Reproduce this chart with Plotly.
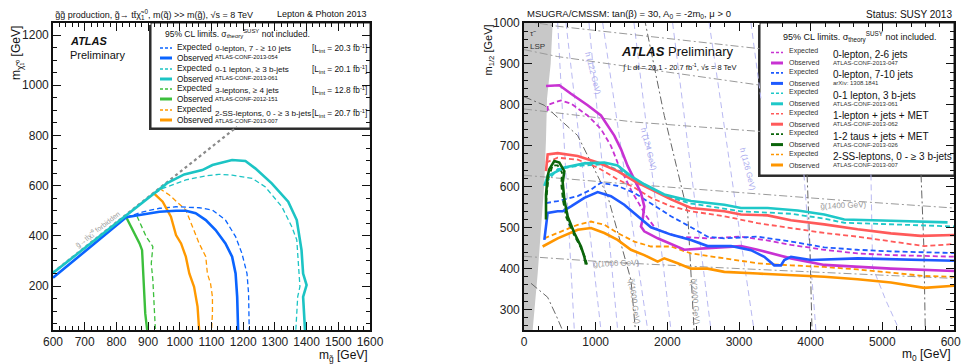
import plotly.graph_objects as go

OFF = 8                      # page body margin of the html page
W, H = 969 - OFF, 364 - OFF  # figure size so that it fits inside the 969x364 window
FONT = "Liberation Sans, Arial, sans-serif"

# ---------------- LEFT PANEL DATA (m_gluino, m_neutralino) ----------------
kin_x = [600, 1180]
kin_y = [254, 834]

blue_obs_x = [600, 831, 873, 936, 988, 1019, 1050, 1082, 1113, 1144, 1165, 1176, 1181, 1184]
blue_obs_y = [233, 474, 483, 496, 500, 500, 490, 463, 423, 370, 317, 250, 157, 25]
blue_exp_x = [831, 884, 936, 988, 1061, 1103, 1144, 1176, 1196, 1212, 1217, 1219]
blue_exp_y = [474, 496, 510, 516, 512, 503, 463, 397, 330, 250, 170, 25]

cyan_obs_x = [600, 700, 800, 900, 960, 1014, 1071, 1103, 1165, 1207, 1238, 1290, 1342, 1369, 1384, 1389, 1400, 1389, 1392, 1395]
cyan_obs_y = [252, 352, 453, 553, 610, 645, 662, 682, 702, 698, 669, 609, 536, 463, 343, 250, 204, 157, 91, 25]
cyan_exp_x = [900, 946, 1019, 1082, 1123, 1165, 1228, 1269, 1322, 1353, 1369, 1374, 1379, 1372, 1369, 1366]
cyan_exp_y = [553, 589, 623, 639, 645, 642, 629, 596, 516, 437, 384, 277, 198, 158, 91, 25]

green_obs_x = [831, 852, 873, 881, 885, 888, 891, 897]
green_obs_y = [474, 423, 370, 343, 250, 157, 91, 25]
green_exp_x = [865, 894, 915, 910, 915, 917, 920, 923]
green_exp_y = [478, 397, 357, 290, 224, 157, 91, 25]

orange_obs_x = [920, 946, 972, 988, 1004, 1019, 1030, 1045, 1056, 1061]
orange_obs_y = [567, 536, 476, 403, 370, 317, 250, 197, 118, 25]
orange_exp_x = [936, 967, 1019, 1040, 1061, 1082, 1087, 1097, 1103, 1103, 1100]
orange_exp_y = [589, 563, 503, 437, 370, 317, 250, 210, 157, 91, 25]

# ---------------- RIGHT PANEL DATA (m0, m1/2) ----------------
lsp_m0 = [0, 121, 191, 237, 284, 307, 321, 372, 400, 0]
lsp_m12 = [250, 250, 388, 503, 610, 716, 815, 900, 1000, 1000]

mag_obs_m0 = [307, 493, 656, 888, 1074, 1260, 1353, 1446, 1539, 1632, 1678, 1655, 1632, 1678, 1865, 2144, 2237, 2562, 2795, 3027, 3260, 3725, 4190, 4655, 5120, 6000]
mag_obs_m12 = [846, 848, 827, 799, 774, 725, 692, 651, 618, 585, 552, 519, 503, 491, 474, 454, 446, 450, 452, 455, 446, 425, 409, 404, 400, 394]
mag_exp_m0 = [330, 330, 516, 656, 888, 1074, 1213, 1306, 1399, 1500, 1600, 1700, 1814, 1865, 2144, 2562, 3027, 3353, 3725, 4190, 4655, 5120, 6000]
mag_exp_m12 = [785, 800, 811, 803, 774, 741, 700, 659, 626, 590, 560, 530, 503, 495, 478, 474, 478, 470, 458, 446, 437, 433, 429]

blue_obs_m0 = [284, 330, 470, 540, 656, 842, 1028, 1213, 1399, 1585, 1772, 2051, 2330, 2562, 2888, 3167, 3353, 3492, 3585, 3632, 3725, 4004, 4655, 6000]
blue_obs_m12 = [470, 536, 540, 540, 552, 573, 587, 577, 556, 528, 501, 483, 470, 455, 455, 445, 429, 408, 408, 421, 429, 421, 425, 419]
blue_exp_m0 = [307, 470, 749, 935, 1074, 1306, 1539, 1772, 2051, 2330, 2562, 2795, 3260, 3725, 4190, 4655, 5120, 6000]
blue_exp_m12 = [560, 565, 577, 593, 610, 602, 585, 560, 528, 501, 478, 474, 478, 466, 452, 446, 442, 438]

cyan_obs_m0 = [284, 330, 563, 842, 1121, 1306, 1492, 1678, 1957, 2330, 2795, 3027, 3399, 3818, 4190, 4469, 5120, 5910]
cyan_obs_m12 = [602, 626, 647, 657, 659, 652, 626, 606, 581, 565, 556, 548, 548, 542, 532, 520, 517, 513]
cyan_exp_m0 = [307, 470, 749, 1121, 1399, 1632, 1957, 2330, 3027, 3725, 4190, 4469, 5120, 6000]
cyan_exp_m12 = [610, 643, 651, 655, 634, 610, 578, 559, 540, 534, 522, 512, 508, 503]

red_obs_m0 = [307, 330, 470, 749, 1028, 1306, 1539, 1772, 2051, 2330, 2609, 2795, 3027, 3399, 3725, 4190, 4655, 5120, 5538, 6000]
red_obs_m12 = [638, 679, 682, 675, 659, 638, 614, 593, 569, 548, 544, 540, 532, 530, 518, 508, 496, 486, 480, 482]
red_exp_m0 = [307, 470, 749, 1028, 1306, 1539, 1772, 2051, 2330, 2795, 3260, 3725, 4190, 4655, 5120, 5585, 6000]
red_exp_m12 = [659, 671, 666, 647, 618, 598, 573, 552, 540, 528, 511, 499, 487, 478, 466, 455, 460]

tau_obs_m0 = [307, 307, 330, 353, 423, 493, 563, 540, 563, 609, 702, 795, 842, 865]
tau_obs_m12 = [520, 580, 626, 643, 663, 659, 638, 610, 569, 527, 487, 454, 429, 410]
tau_exp_m0 = [307, 340, 400, 470, 530, 520, 545, 590, 690, 790, 850, 880]
tau_exp_m12 = [560, 620, 652, 652, 635, 605, 565, 525, 485, 452, 428, 410]

ss_obs_m0 = [260, 470, 749, 935, 1121, 1306, 1492, 1678, 1865, 1957, 2144, 2330, 2562, 2795, 3260, 3725, 4190, 4655, 5120, 5585, 6000]
ss_obs_m12 = [454, 474, 495, 499, 487, 470, 446, 433, 417, 425, 413, 400, 400, 392, 388, 384, 380, 374, 366, 353, 358]
ss_exp_m0 = [284, 470, 749, 935, 1121, 1306, 1539, 1772, 2051, 2330, 2795, 3260, 3725, 4190, 4655, 5120, 5585, 6000]
ss_exp_m12 = [474, 487, 507, 515, 507, 487, 466, 454, 454, 437, 425, 413, 408, 404, 398, 390, 382, 380]

# iso-mass contours (gluino / squark, grey dash-dot) and Higgs-mass contours (light blue dashed)
gluino_lines = {
    "g1000": ([0, 1250, 3000, 4500, 6000], [430, 415, 400, 388, 376]),
    "g1400": ([0, 1500, 3000, 4500, 6000], [628, 606, 586, 566, 548]),
    "g1800": ([0, 1540, 3300], [790, 758, 735]),
    "g2200": ([0, 470, 3300], [935, 918, 848]),
    "g2600": ([0, 470, 3300], [1005, 992, 937]),
}
squark_lines = {
    "q1000": ([98, 330, 450, 560], [364, 330, 285, 240]),
    "q1600": ([0, 283, 749, 1168, 1493, 1563], [820, 799, 725, 577, 372, 232]),
    "q2400": ([1679, 1957, 2284, 2376], [1012, 774, 536, 240]),
    "q3200": ([3950, 3990, 4020], [630, 450, 240]),
    "q4000": ([5540, 5580, 5600], [630, 450, 240]),
}
higgs_lines = {
    "h1": ([470, 702], [1000, 250]),
    "h2": ([586, 1074], [1000, 250]),
    "h3": ([907, 1307], [1000, 250]),
    "h4": ([1098, 1726], [1000, 250]),
    "h5": ([1535, 2051], [1000, 250]),
    "h6": ([2074, 2609], [1000, 250]),
    "h7": ([2584, 3209], [1000, 250]),
    "h8": ([3167, 3306], [1000, 815]),
    "h9": ([3906, 4073], [630, 250]),
    "h10": ([4841, 4864, 5050, 5237], [630, 404, 322, 250]),
}

# ---------------- styling ----------------
L_BLUE, L_CYAN, L_GREEN, L_ORANGE = "#0a64ff", "#1cc4c4", "#3cbf3c", "#ff9900"
R_MAG, R_BLUE, R_CYAN, R_RED, R_TAU, R_SS = "#c832d2", "#1e5aff", "#1ec8c8", "#ff5a5a", "#0a640a", "#ff9600"
DASH = "5px,3px"
DASHDOT = "8px,3px,2px,3px"

fig = go.Figure()


def add(x, y, color, width, dash=None, xa="x", ya="y", fill=None, fillcolor=None):
    fig.add_trace(go.Scatter(x=x, y=y, mode="lines", xaxis=xa, yaxis=ya,
                             line=dict(color=color, width=width, dash=dash),
                             fill=fill, fillcolor=fillcolor,
                             hoverinfo="skip", showlegend=False))


# left panel
add(kin_x, kin_y, "#8a8a8a", 2.2, "dot")
add(green_exp_x, green_exp_y, L_GREEN, 1.3, DASH)
add(orange_exp_x, orange_exp_y, L_ORANGE, 1.3, DASH)
add(blue_exp_x, blue_exp_y, L_BLUE, 1.3, DASH)
add(cyan_exp_x, cyan_exp_y, L_CYAN, 1.3, DASH)
add(green_obs_x, green_obs_y, L_GREEN, 2.4)
add(orange_obs_x, orange_obs_y, L_ORANGE, 2.4)
add(blue_obs_x, blue_obs_y, L_BLUE, 2.6)
add(cyan_obs_x, cyan_obs_y, L_CYAN, 2.6)

# right panel background
add(lsp_m0, lsp_m12, "#c4c4c4", 0, None, "x2", "y2", "toself", "#c8c8c8")
for k, (xx, yy) in higgs_lines.items():
    add(xx, yy, "#b9b9f2", 1, "6px,4px", "x2", "y2")
for k, (xx, yy) in gluino_lines.items():
    add(xx, yy, "#9a9a9a", 1, DASHDOT, "x2", "y2")
for k, (xx, yy) in squark_lines.items():
    add(xx, yy, "#666666", 1, DASHDOT, "x2", "y2")

# right panel limits
for xx, yy, c in [(mag_exp_m0, mag_exp_m12, R_MAG), (blue_exp_m0, blue_exp_m12, R_BLUE),
                  (cyan_exp_m0, cyan_exp_m12, R_CYAN), (red_exp_m0, red_exp_m12, R_RED),
                  (ss_exp_m0, ss_exp_m12, R_SS), (tau_exp_m0, tau_exp_m12, R_TAU)]:
    add(xx, yy, c, 1.8, DASH, "x2", "y2")
for xx, yy, c in [(mag_obs_m0, mag_obs_m12, R_MAG), (red_obs_m0, red_obs_m12, R_RED),
                  (cyan_obs_m0, cyan_obs_m12, R_CYAN), (blue_obs_m0, blue_obs_m12, R_BLUE),
                  (ss_obs_m0, ss_obs_m12, R_SS), (tau_obs_m0, tau_obs_m12, R_TAU)]:
    add(xx, yy, c, 2.6, None, "x2", "y2")


# window pixel -> paper fraction
def px(x):
    return (x - OFF) / W


def py(y):
    return 1 - (y - OFF) / H


shapes = []
annos = []


def text(x, y, s, size, anchor="left", color="#111", angle=0, ref="paper", yanchor="middle", xr=None, yr=None):
    if ref == "paper":
        annos.append(dict(x=px(x), y=py(y), xref="paper", yref="paper", text=s, showarrow=False,
                          xanchor=anchor, yanchor=yanchor, textangle=angle,
                          font=dict(family=FONT, size=size, color=color)))
    else:
        annos.append(dict(x=x, y=y, xref=xr, yref=yr, text=s, showarrow=False,
                          xanchor=anchor, yanchor=yanchor, textangle=angle,
                          font=dict(family=FONT, size=size, color=color)))


def box(x0, y0, x1, y1):
    shapes.append(dict(type="rect", xref="paper", yref="paper", x0=px(x0 - 2), x1=px(x1), y0=py(y1 + 2), y1=py(y0 + 2),
                       line=dict(width=0), fillcolor="#333", layer="below"))
    shapes.append(dict(type="rect", xref="paper", yref="paper", x0=px(x0), x1=px(x1), y0=py(y1), y1=py(y0),
                       line=dict(color="#222", width=1), fillcolor="white", layer="below"))


def sample(x0, x1, y, color, width, dash=None):
    shapes.append(dict(type="line", xref="paper", yref="paper", x0=px(x0), x1=px(x1), y0=py(y), y1=py(y),
                       line=dict(color=color, width=width, dash=dash), layer="below"))


# ---- left legend ----
box(151, 23, 370, 128)
text(163, 34, "95% CL limits. σ<sub>theory</sub><sup>SUSY</sup> not included.", 8.5)
left_entries = [
    (L_BLUE, "0-lepton, 7 - ≥ 10 jets", "ATLAS-CONF-2013-054", "20.3", 48, 48, 57),
    (L_CYAN, "0-1 lepton, ≥ 3 b-jets", "ATLAS-CONF-2013-061", "20.1", 69, 69, 78),
    (L_GREEN, "3-leptons, ≥ 4 jets", "ATLAS-CONF-2012-151", "12.8", 89, 90, 99),
    (L_ORANGE, "2-SS-leptons, 0 - ≥ 3 b-jets", "ATLAS-CONF-2013-007", "20.7", 110, 113.5, 120.5),
]
for col, name, ref, lum, ey, ny, ry in left_entries:
    sample(160, 172, ey, col, 1.3, "3px,2px")
    sample(160, 172, ey + 10, col, 3)
    text(175, ey - 1, "Expected", 8.3)
    text(175, ey + 10, "Observed", 8.3)
    text(213, ny, name, 8.1)
    text(213, ry, ref, 5.8)
    text(310, ny, "[L<sub>int</sub> = %s fb<sup>-1</sup>]" % lum, 8.3)

# ---- right legend ----
box(760, 23, 954, 175)
text(781, 37, "95% CL limits. σ<sub>theory</sub><sup>SUSY</sup> not included.", 9)
right_entries = [
    (R_MAG, "0-lepton, 2-6 jets", "ATLAS-CONF-2013-047"),
    (R_BLUE, "0-lepton, 7-10 jets", "arXiv: 1308.1841"),
    (R_CYAN, "0-1 lepton, 3 b-jets", "ATLAS-CONF-2013-061"),
    (R_RED, "1-lepton + jets + MET", "ATLAS-CONF-2013-062"),
    (R_TAU, "1-2 taus + jets + MET", "ATLAS-CONF-2013-026"),
    (R_SS, "2-SS-leptons, 0 - ≥ 3 b-jets", "ATLAS-CONF-2013-007"),
]
for i, (col, name, ref) in enumerate(right_entries):
    ey = 52.5 + i * 20.4
    sample(771, 783, ey, col, 1.6, "3px,2px")
    sample(771, 783, ey + 10.5, col, 3)
    text(787, ey - 1, "Expected", 7, color="#333")
    text(787, ey + 10.5, "Observed", 7, color="#333")
    text(831, ey + 2, name, 10)
    text(831, ey + 10.5, ref, 6, color="#333")

# ---- titles / labels ----
text(53, 14, "g̃g̃ production, g̃→ tt̄χ̃<sub>1</sub><sup>0</sup>, m(q̃) >> m(g̃), √s = 8 TeV", 9)
text(369, 14, "Lepton & Photon 2013", 9, anchor="right")
text(68, 41, "<b><i>ATLAS</i></b>", 11)
text(68, 55, "Preliminary", 11)
text(17, 24, "m<sub>χ̃₁⁰</sub> [GeV]", 12, anchor="center", angle=-90, yanchor="top")
text(370, 356, "m<sub>g̃</sub> [GeV]", 12, anchor="right")
text(742, 422, "g̃→tt̄χ̃₁⁰ forbidden", 7, anchor="center", color="#999", angle=-38, ref="data", xr="x", yr="y")

text(525, 14, "MSUGRA/CMSSM: tan(β) = 30, A<sub>0</sub> = -2m<sub>0</sub>, μ > 0", 9.5)
text(954, 14, "Status: SUSY 2013", 10, anchor="right")
text(619, 52, "<b><i>ATLAS</i></b> Preliminary", 13)
text(620, 67, "∫ L dt = 20.1 - 20.7 fb<sup>-1</sup>, √s = 8 TeV", 7.5)
text(528, 34, "τ̃", 8, color="#333")
text(528, 46, "LSP", 8, color="#333")
text(489, 22, "m<sub>1/2</sub> [GeV]", 11, anchor="center", angle=-90, yanchor="top")
text(953, 355, "m<sub>0</sub> [GeV]", 12, anchor="right")

for s, x, y, a, col in [("g̃(1000 GeV)", 1280, 413, -2, "#999"), ("g̃(1400 GeV)", 4450, 553, -2, "#999"),
                        ("q̃(1600 GeV)", 1540, 320, 82, "#999"), ("q̃(2400 GeV)", 2390, 320, 86, "#999"),
                        ("h (122 GeV)", 963, 877, 76, "#a9a9ee"), ("h (124 GeV)", 1744, 692, 76, "#a9a9ee"),
                        ("h (126 GeV)", 3125, 643, 76, "#a9a9ee")]:
    text(x, y, s, 8, anchor="center", color=col, angle=a, ref="data", xr="x2", yr="y2")

axis_common = dict(showline=True, linecolor="#111", linewidth=1.6, mirror="allticks", ticks="inside",
                   tickcolor="#111", tickwidth=1, ticklen=8, showgrid=False, zeroline=False, automargin=False,
                   tickfont=dict(family=FONT, size=12, color="#222"), fixedrange=True)

fig.update_layout(
    template="none",
    width=W, height=H, margin=dict(l=0, r=0, t=0, b=0, pad=0, autoexpand=False),
    paper_bgcolor="white", plot_bgcolor="rgba(0,0,0,0)", showlegend=False,
    xaxis=dict(domain=[px(53), px(370)], range=[600, 1600], dtick=100, anchor="y",
               minor=dict(ticks="inside", ticklen=4, dtick=20, tickcolor="#111"), **axis_common),
    yaxis=dict(domain=[py(330), py(23)], range=[25, 1248], tick0=0, dtick=200, anchor="x",
               minor=dict(ticks="inside", ticklen=4, dtick=50, tickcolor="#111"), **axis_common),
    xaxis2=dict(domain=[px(524), px(954)], range=[0, 6000], dtick=1000, anchor="y2",
                minor=dict(ticks="inside", ticklen=4, dtick=200, tickcolor="#111"), **axis_common),
    yaxis2=dict(domain=[py(330), py(23)], range=[250, 1000], dtick=100, anchor="x2",
                minor=dict(ticks="inside", ticklen=4, dtick=20, tickcolor="#111"), **axis_common),
    shapes=shapes, annotations=annos,
)

fig.write_html("out.html")
